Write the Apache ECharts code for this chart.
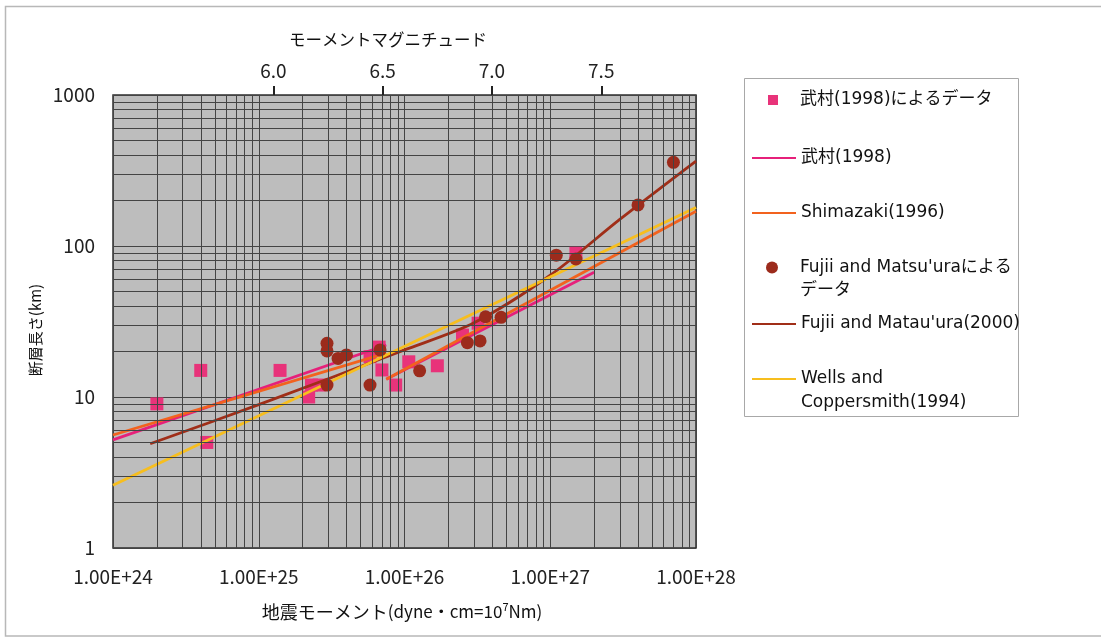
<!DOCTYPE html>
<html>
<head>
<meta charset="utf-8">
<script src="https://cdn.jsdelivr.net/npm/echarts@6/dist/echarts.min.js"></script>
<style>
  html, body { margin: 0; padding: 0; background: #ffffff; }
  #chart { width: 1101px; height: 638px; }
</style>
</head>
<body>
<div id="chart"></div>
<script>
// Seismic moment M0 (dyne·cm) against fault length L (km)

// Observed faults compiled by Takemura (1998)
const takemuraPoints = [
  [2.0e24, 9.0], [4.0e24, 15.0], [4.4e24, 5.0], [1.4e25, 15.0],
  [2.2e25, 10.0], [2.3e25, 12.0], [2.6e25, 12.0],
  [5.8e25, 18.5], [6.7e25, 21.4], [7.0e25, 15.1], [8.7e25, 12.0],
  [1.07e26, 17.1], [1.68e26, 16.1], [2.5e26, 25.7], [3.2e26, 30.8],
  [1.5e27, 89.5]
];

// Observed faults compiled by Fujii and Matsu'ura
const fujiiPoints = [
  [2.94e25, 22.7], [2.94e25, 20.2], [3.5e25, 18.0], [4.0e25, 19.0],
  [2.94e25, 12.0], [5.8e25, 12.0], [6.8e25, 20.5], [1.27e26, 14.9],
  [2.7e26, 22.9], [3.3e26, 23.5], [3.6e26, 34.0], [4.6e26, 33.7],
  [1.1e27, 87.0], [1.5e27, 82.0], [4.0e27, 187.0], [7.0e27, 358.0]
];

// Scaling relations (two branches split at M0 = 7.5e25 where given)
const takemuraFitSmall  = [[1e24, 5.2], [7.5e25, 22.1]];
const takemuraFitLarge  = [[7.5e25, 13.1], [2.0e27, 67.0]];
const shimazakiFitSmall = [[1e24, 5.6], [7.5e25, 19.5]];
const shimazakiFitLarge = [[7.5e25, 13.1], [1e28, 170.0]];
const fujiiFit = [[1.8e24, 4.9], [1e25, 8.9], [1e26, 20.5], [3e26, 31.0], [1e27, 64.0], [3e27, 150.0], [1e28, 365.0]];
const wellsFit = [[1e24, 2.6], [1e28, 180.0]];

// Tick labels
const xTickLabels = ['1.00E+24', '1.00E+25', '1.00E+26', '1.00E+27', '1.00E+28'];
const yTickLabels = ['1', '10', '100', '1000'];
const magnitudeTicks = [6.0, 6.5, 7.0, 7.5];

// Series names
const N_TK_DATA = '武村(1998)によるデータ';
const N_TK_FIT  = '武村(1998)';
const N_SH_FIT  = 'Shimazaki(1996)';
const N_FM_DATA = "Fujii and Matsu'uraによるデータ";
const N_FM_FIT  = "Fujii and Matau'ura(2000)";
const N_WC_FIT  = 'Wells and Coppersmith(1994)';
// two-line legend entries: a leading empty line keeps the icon level with the first line
const legendText = {
  [N_FM_DATA]: "\nFujii and Matsu'uraによる\nデータ",
  [N_WC_FIT]: '\nWells and\nCoppersmith(1994)'
};

const FONT_CJK = '"Noto Sans CJK JP", sans-serif';
const FONT_MIX = '"DejaVu Sans", "Noto Sans CJK JP", sans-serif';
const GRID_LINE = '#444444';

const C_TK_DATA = '#e8337a';
const C_TK_FIT  = '#e6207a';
const C_SH_FIT  = '#f2621e';
const C_FM_DATA = '#9c2b1c';
const C_FM_FIT  = '#a02e18';
const C_WC_FIT  = '#f7be1e';

const M0_MIN = 1e24, M0_MAX = 1e28;
const L_MIN = 1, L_MAX = 1000;
// moment magnitude from seismic moment (dyne·cm)
const toMw = m0 => (Math.log10(m0) - 16.1) / 1.5;

// 2..9 subdivisions of every decade, for the log-paper grid
function logSubdivisions(lo, hi) {
  const out = [];
  for (let e = Math.round(Math.log10(lo)); e < Math.round(Math.log10(hi)); e++) {
    for (let k = 2; k <= 9; k++) out.push(k * Math.pow(10, e));
  }
  return out;
}
const minorX = logSubdivisions(M0_MIN, M0_MAX);
const minorY = logSubdivisions(L_MIN, L_MAX);

// legend texts all start at the same column
const LEGEND_TEXT_X = 800;

function legendItem(name, left, top, opts) {
  opts = opts || {};
  const size = opts.marker;
  const iconW = size || 44;
  return {
    data: [name],
    left: left,
    top: top,
    padding: 0,
    selectedMode: false,
    itemWidth: iconW,
    itemHeight: size || 14,
    // line entries: hide the marker drawn on the legend line
    itemStyle: size ? {} : { opacity: 0 },
    formatter: n => legendText[n] || n,
    textStyle: {
      fontSize: 17, color: '#111', fontFamily: FONT_MIX,
      lineHeight: opts.lineHeight || 20,
      padding: [0, 0, 0, Math.max(0, LEGEND_TEXT_X - (left + iconW + 5))]
    }
  };
}

const fitLine = (name, color, data, extra) => Object.assign({
  name: name,
  type: 'line',
  data: data,
  symbol: 'none',
  showSymbol: false,
  lineStyle: { color: color, width: 2.8 },
  itemStyle: { color: color },
  emphasis: { disabled: true },
  z: 3
}, extra || {});

const chart = echarts.init(document.getElementById('chart'), null, { renderer: 'canvas' });

chart.setOption({
  animation: false,
  backgroundColor: '#ffffff',
  grid: {
    left: 113, right: 405, top: 95, bottom: 90,
    show: true,
    backgroundColor: '#bdbdbd',
    borderColor: '#2e2e2e',
    borderWidth: 1.5
  },
  xAxis: [
    {
      type: 'log', logBase: 10, min: M0_MIN, max: M0_MAX,
      position: 'bottom',
      axisLine: { show: false },
      axisTick: { show: false },
      axisLabel: {
        margin: 19, fontSize: 19, color: '#222', fontFamily: FONT_CJK,
        formatter: v => xTickLabels[Math.round(Math.log10(v)) - 24]
      },
      splitLine: { show: true, lineStyle: { color: GRID_LINE, width: 1 } }
    },
    {
      type: 'value', min: toMw(M0_MIN), max: toMw(M0_MAX),
      position: 'top',
      axisLine: { show: false },
      axisTick: { show: true, customValues: magnitudeTicks, length: 9, lineStyle: { color: '#222', width: 2 } },
      axisLabel: {
        customValues: magnitudeTicks, margin: 15, fontSize: 19, color: '#222', fontFamily: FONT_CJK,
        formatter: v => v.toFixed(1)
      },
      splitLine: { show: false }
    }
  ],
  yAxis: {
    type: 'log', logBase: 10, min: L_MIN, max: L_MAX,
    axisLine: { show: false },
    axisTick: { show: false },
    axisLabel: {
      margin: 18, fontSize: 19, color: '#222', fontFamily: FONT_CJK,
      formatter: v => yTickLabels[Math.round(Math.log10(v))]
    },
    splitLine: { show: true, lineStyle: { color: GRID_LINE, width: 1 } }
  },
  legend: [
    legendItem(N_TK_DATA, 768, 90, { marker: 10 }),
    legendItem(N_TK_FIT, 751, 148),
    legendItem(N_SH_FIT, 751, 203),
    legendItem(N_FM_DATA, 766, 233, { marker: 12, lineHeight: 23 }),
    legendItem(N_FM_FIT, 751, 314),
    legendItem(N_WC_FIT, 751, 343, { lineHeight: 24 })
  ],
  series: [
    // log-paper subdivisions
    {
      name: 'grid', type: 'scatter', data: [], silent: true, z: 1,
      markLine: {
        silent: true, symbol: ['none', 'none'], animation: false,
        label: { show: false },
        lineStyle: { color: GRID_LINE, width: 1, type: 'solid' },
        emphasis: { disabled: true },
        data: minorX.map(v => ({ xAxis: v })).concat(minorY.map(v => ({ yAxis: v })))
      }
    },
    {
      name: N_TK_DATA, type: 'scatter', data: takemuraPoints,
      symbol: 'rect', symbolSize: 13,
      itemStyle: { color: C_TK_DATA, opacity: 1 },
      emphasis: { disabled: true }, z: 2
    },
    fitLine(N_TK_FIT, C_TK_FIT, takemuraFitSmall),
    fitLine(N_TK_FIT, C_TK_FIT, takemuraFitLarge),
    fitLine(N_SH_FIT, C_SH_FIT, shimazakiFitSmall),
    fitLine(N_SH_FIT, C_SH_FIT, shimazakiFitLarge),
    {
      name: N_FM_DATA, type: 'scatter', data: fujiiPoints,
      symbol: 'circle', symbolSize: 13,
      itemStyle: { color: C_FM_DATA, opacity: 1 },
      emphasis: { disabled: true }, z: 3
    },
    fitLine(N_FM_FIT, C_FM_FIT, fujiiFit, { smooth: 0.3 }),
    fitLine(N_WC_FIT, C_WC_FIT, wellsFit)
  ],
  graphic: [
    { type: 'rect', silent: true, z: -10,
      shape: { x: 5.5, y: 6.5, width: 1120, height: 629.5 },
      style: { fill: null, stroke: '#b8b8b8', lineWidth: 1.5 } },
    { type: 'rect', silent: true,
      shape: { x: 744.5, y: 78.5, width: 274, height: 338 },
      style: { fill: null, stroke: '#a8a8a8', lineWidth: 1 } },
    { type: 'text', silent: true, x: 388, y: 40,
      style: { text: 'モーメントマグニチュード', fontSize: 16.5, fontFamily: FONT_CJK, fill: '#111', align: 'center', verticalAlign: 'middle' } },
    { type: 'text', silent: true, x: 402, y: 612,
      style: {
        text: '{a|地震モーメント}{b|(dyne・cm=10}{s|7}{b|Nm)}',
        align: 'center', verticalAlign: 'middle', fill: '#111',
        rich: {
          a: { fontSize: 18, fontFamily: FONT_CJK, fill: '#111', lineHeight: 22 },
          b: { fontSize: 17, fontFamily: FONT_CJK, fill: '#111', lineHeight: 22 },
          s: { fontSize: 11, fontFamily: FONT_CJK, fill: '#111', verticalAlign: 'top', lineHeight: 13 }
        }
      } },
    { type: 'text', silent: true, x: 35, y: 330, rotation: Math.PI / 2,
      style: { text: '断層長さ(km)', fontSize: 15, fontFamily: FONT_CJK, fill: '#111', align: 'center', verticalAlign: 'middle' } }
  ]
});
</script>
</body>
</html>
